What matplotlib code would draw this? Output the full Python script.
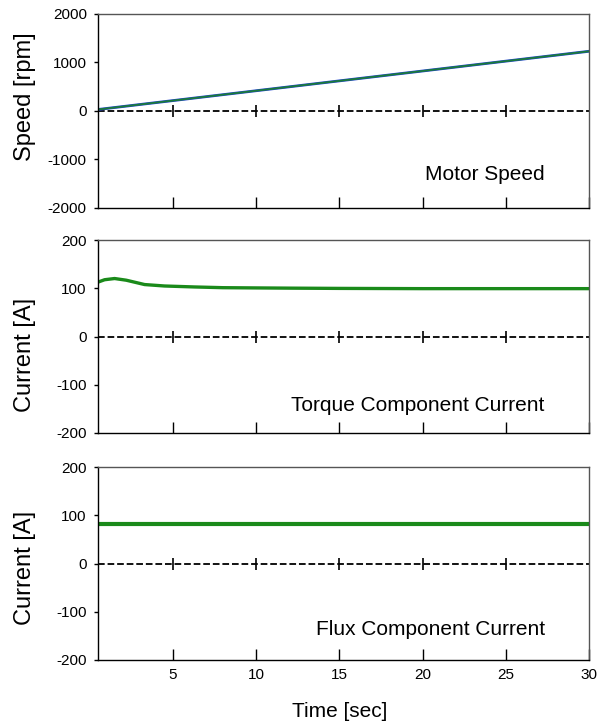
import numpy as np
import matplotlib
matplotlib.use("Agg")
import matplotlib.pyplot as plt

plt.rcParams["font.family"] = ["Liberation Sans", "DejaVu Sans"]
plt.rcParams["axes.unicode_minus"] = False

# Werte
t_speed = [0.5, 30.0]
speed_ref = [30, 1230]
speed_act = [30, 1230]

t_torque = [0.5, 0.9, 1.5, 2.2, 3.3, 4.5, 6.3, 8.0, 10.0, 12.2, 15.0, 20.0, 25.0, 30.0]
i_torque = [113, 118, 120.5, 117, 108, 105, 103, 101.5, 101, 100.5, 100, 99.5, 99.5, 99.5]

t_flux = [0.5, 5, 10, 15, 20, 25, 30]
i_flux = [82, 82, 82, 82, 82, 82, 82]

xticks = [5, 10, 15, 20, 25, 30]
GREEN = "#1a8a1a"

fig = plt.figure(figsize=(6.07, 7.22), dpi=100)
left, width = 0.1614, 0.809
rows = [(0.712, 0.2687), (0.4003, 0.267), (0.0859, 0.267)]
axes = [fig.add_axes([left, y0, width, h]) for y0, h in rows]

specs = [
    ((-2000, 2000), [-2000, -1000, 0, 1000, 2000], "Speed [rpm]", "Motor Speed", 0.144, 0.866),
    ((-200, 200), [-200, -100, 0, 100, 200], "Current [A]", "Torque Component Current", 0.114, 0.508),
    ((-200, 200), [-200, -100, 0, 100, 200], "Current [A]", "Flux Component Current", 0.13, 0.214),
]

axes[0].plot(t_speed, speed_ref, color="#2244cc", lw=2.0)
axes[0].plot(t_speed, speed_act, color="#1a7a3a", lw=1.3)
axes[1].plot(t_torque, i_torque, color=GREEN, lw=2.4)
axes[2].plot(t_flux, i_flux, color=GREEN, lw=3.0)

for ax, (ylim, yt, ylab, title, ty, ly) in zip(axes, specs):
    ax.set_xlim(0.5, 30)
    ax.set_ylim(*ylim)
    ax.axhline(0, color="black", ls=(0, (3.7, 1.6)), lw=1.3, zorder=1)
    ax.plot(xticks[:-1], [0] * 5, ls="none", marker="|", ms=8, mew=1.2, color="black")
    ax.set_xticks(xticks)
    ax.set_yticks(yt)
    ax.tick_params(axis="x", direction="in", length=8, width=1, top=False, pad=6)
    ax.tick_params(axis="y", direction="out", length=3, width=1, pad=5)
    ax.tick_params(labelsize=11)
    fig.text(25 / 607, ly, ylab, rotation=90, fontsize=17, ha="center", va="center")
    ax.text(0.91, ty, title, transform=ax.transAxes, fontsize=15,
            ha="right", va="baseline")
    for s in ax.spines.values():
        s.set_linewidth(1.0)
    ax.spines["top"].set_color("#555555")
    ax.spines["right"].set_color("#555555")
    if ax is not axes[-1]:
        ax.tick_params(labelbottom=False)

fig.text(340 / 607, 1 - 717 / 722, "Time [sec]", fontsize=15,
         ha="center", va="baseline")

fig.savefig("out.png", dpi=100)
